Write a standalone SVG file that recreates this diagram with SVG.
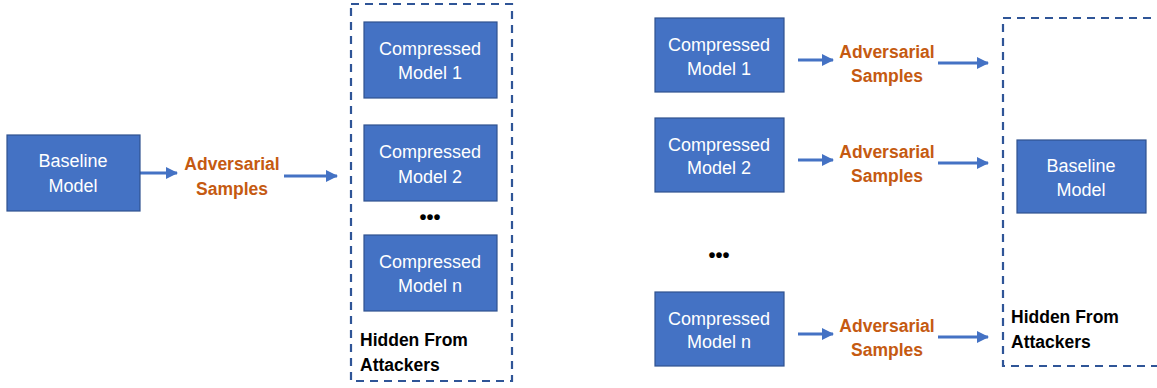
<svg xmlns="http://www.w3.org/2000/svg" width="1157" height="388" viewBox="0 0 1157 388">
<defs>
<marker id="ah" markerUnits="userSpaceOnUse" markerWidth="12" markerHeight="12" refX="11" refY="6" orient="auto">
<path d="M0,0 L12,6 L0,12 Z" fill="#4472C4"/>
</marker>
<style>
.box{fill:#4472C4;stroke:#2F528F;stroke-width:1.2}
.bt{font-family:"Liberation Sans",Arial,sans-serif;font-size:18px;fill:#fff;text-anchor:middle}
.adv{font-family:"Liberation Sans",Arial,sans-serif;font-size:17.5px;font-weight:bold;fill:#C55A11;text-anchor:middle}
.hid{font-family:"Liberation Sans",Arial,sans-serif;font-size:17.5px;font-weight:bold;fill:#000}
.dash{fill:none;stroke:#2F5597;stroke-width:2.2;stroke-dasharray:8,6}
.dots{font-family:"Liberation Sans",Arial,sans-serif;font-size:20px;font-weight:bold;fill:#000;text-anchor:middle}
.arr{stroke:#4472C4;stroke-width:3.2;fill:none;marker-end:url(#ah)}
</style>
</defs>
<g id="groups">
<rect id="hidden-left" class="dash" x="351" y="4" width="161" height="377"/>
<rect id="hidden-right" class="dash" x="1003" y="18" width="170" height="348"/>
</g>
<g id="connectors">
<line class="arr" x1="140" y1="173" x2="177" y2="173"/>
<line class="arr" x1="284" y1="176" x2="337" y2="176"/>
<line class="arr" x1="798" y1="60" x2="833" y2="60"/>
<line class="arr" x1="798" y1="160" x2="833" y2="160"/>
<line class="arr" x1="798" y1="334" x2="833" y2="334"/>
<line class="arr" x1="938" y1="63" x2="988" y2="63"/>
<line class="arr" x1="938" y1="163" x2="988" y2="163"/>
<line class="arr" x1="938" y1="337" x2="988" y2="337"/>
</g>
<g id="baseline-left">
<rect class="box" x="7" y="135" width="133" height="76"/>
<text class="bt" x="73" y="167">Baseline</text>
<text class="bt" x="73" y="192">Model</text>
</g>
<g id="adv-left">
<text class="adv" x="232" y="170">Adversarial</text>
<text class="adv" x="232" y="195">Samples</text>
</g>
<g id="cm1-left">
<rect class="box" x="364" y="22" width="133" height="76"/>
<text class="bt" x="430" y="55">Compressed</text>
<text class="bt" x="430" y="79">Model 1</text>
</g>
<g id="cm2-left">
<rect class="box" x="364" y="125" width="133" height="76"/>
<text class="bt" x="430" y="158">Compressed</text>
<text class="bt" x="430" y="183">Model 2</text>
</g>
<text id="dots-left" class="dots" x="430" y="224">•••</text>
<g id="cmn-left">
<rect class="box" x="364" y="235" width="133" height="76"/>
<text class="bt" x="430" y="268">Compressed</text>
<text class="bt" x="430" y="292">Model n</text>
</g>
<g id="hidden-left-label">
<text class="hid" x="360" y="346">Hidden From</text>
<text class="hid" x="360" y="371">Attackers</text>
</g>
<g id="cm1-right">
<rect class="box" x="655" y="18" width="129" height="74"/>
<text class="bt" x="719" y="51">Compressed</text>
<text class="bt" x="719" y="75">Model 1</text>
</g>
<g id="cm2-right">
<rect class="box" x="655" y="118" width="129" height="74"/>
<text class="bt" x="719" y="151">Compressed</text>
<text class="bt" x="719" y="174">Model 2</text>
</g>
<text id="dots-right" class="dots" x="719" y="262">•••</text>
<g id="cmn-right">
<rect class="box" x="655" y="292" width="129" height="74"/>
<text class="bt" x="719" y="325">Compressed</text>
<text class="bt" x="719" y="348">Model n</text>
</g>
<g id="adv-right-1">
<text class="adv" x="887" y="58">Adversarial</text>
<text class="adv" x="887" y="82">Samples</text>
</g>
<g id="adv-right-2">
<text class="adv" x="887" y="158">Adversarial</text>
<text class="adv" x="887" y="182">Samples</text>
</g>
<g id="adv-right-n">
<text class="adv" x="887" y="332">Adversarial</text>
<text class="adv" x="887" y="356">Samples</text>
</g>
<g id="baseline-right">
<rect class="box" x="1017" y="140" width="129" height="73"/>
<text class="bt" x="1081" y="172">Baseline</text>
<text class="bt" x="1081" y="196">Model</text>
</g>
<g id="hidden-right-label">
<text class="hid" x="1011" y="323">Hidden From</text>
<text class="hid" x="1011" y="348">Attackers</text>
</g>
</svg>
